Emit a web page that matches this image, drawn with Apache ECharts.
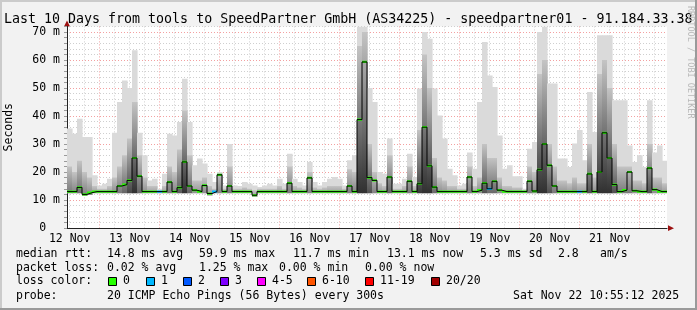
<!DOCTYPE html>
<html><head><meta charset="utf-8">
<style>html,body{margin:0;padding:0;background:#f2f2f2;}#c{width:697px;height:310px;}</style>
<script src="https://cdn.jsdelivr.net/npm/echarts@6/dist/echarts.min.js"></script>
</head><body><div id="c"></div>
<script>
// ---------- data ----------
const titleText = 'Last 10 Days from tools to SpeedPartner GmbH (AS34225) - speedpartner01 - 91.184.33.38';
const startHour = 10.92;   // Nov 12 10:55 (hours since Nov 12 00:00)
const endHour = 250.92;    // Nov 22 10:55
const binHours = 2;
const dayLabels = ['12 Nov','13 Nov','14 Nov','15 Nov','16 Nov','17 Nov','18 Nov','19 Nov','20 Nov','21 Nov'];
const yTickLabels = ['0','10 m','20 m','30 m','40 m','50 m','60 m','70 m'];

const median = [
 13,13,14.5,12,12.6,13,13,13,13,13,
 15,15.5,17,25,18.5,13,13,13,13,13,
 16.4,13,14.4,23.6,15,13.5,13,15.2,12.3,13,
 19,13,15,13,13,13,13,11.7,13,13,
 13,13,13,13,16,13,13,13,17.9,13,
 13,13,13,13,13,13,15,13,38.7,59.3,
 18,17,13,13,18.2,13,13,13,16.7,13,
 15.8,36,22.2,14.6,13,13,13,13,13,13,
 18.2,13,13.5,16,14,16.7,13.5,13,13,13,
 13,13,16.7,13.2,20.8,30,22.4,15,13,13,
 13,13,13,13,19.3,13,20,34,25,15.5,
 13,13.5,20,13.3,13,13,21.4,13.7,13,13
];
const smokeMax = [
 35.5,33.7,39,32.5,32.5,18.8,15.2,15.8,17.6,34,
 45,52.7,50,63.5,34,26,17,17.6,14,19.4,
 33.7,33,37.9,53.3,37.9,22.4,24.8,23,19.4,16.4,
 20,15.2,30,15.2,15,16.4,15.8,15.2,14.6,15.2,
 15.8,15.2,17.6,15.8,26.5,17.6,16.4,15.2,23.6,16.4,
 15.2,16.4,17.6,18.2,17.6,15.2,24.2,26,72,72,
 50,45,20,19.4,32,15.8,15.8,17.6,26.5,18.2,
 49.8,70,67.6,49.8,40.2,32,21.2,18.8,15.2,15.8,
 27,21.2,45,66.4,54.5,50.4,33,21.2,22.4,18.5,
 18.5,14,28.3,30.7,70,72,51.6,51.6,24.8,24.8,
 21.8,30.2,35,24.2,48.6,34.3,68.8,68.8,68.8,45.6,
 45.6,45.6,29.5,23.6,26,21.8,45.6,27,29.5,24
];
const smokeDark = [
 22,20,24,20,18,15,14,14,15,18,
 22,26,32,45,26,18,15,15,13.5,15,
 22,20,28,42,26,17,17,18,15,14,
 19.5,14,22,14,14,14.5,14,13.5,14,14,
 14,14,15,14,22,15,14.5,14,20,14.5,
 14,14.5,15,15,15,14,21,20,65,70,
 30,20,16,15,26,14,14,15,22,15,
 35,62,50,25,18,17,15,15,14,14,
 22,15,18,30,25,25,18,15,15,14.5,
 14.5,13.5,22,20,55,60,30,22,17,17,
 16,18,16,16,30,18,55,60,50,30,
 22,22,22,17,17,16,30,18,18,16
];
const smokeMin = [
 12.4,12.4,12.4,11.5,11.8,12.4,12.4,12.4,12.4,12.4,
 12.4,12.4,12.4,12.4,12.4,12.4,12.4,12.4,12.4,12.4,
 12.4,12.4,12.4,12.4,12.4,12.4,12.4,12.4,11.6,12.4,
 12.4,12.4,12.4,12.4,12.4,12.4,12.4,11.2,12.4,12.4,
 12.4,12.4,12.4,12.4,12.4,12.4,12.4,12.4,12.4,12.4,
 12.4,12.4,12.4,12.4,12.4,12.4,12.4,12.4,12.4,12.4,
 12.4,12.4,12.4,12.4,12.4,12.4,12.4,12.4,12.4,12.4,
 12.4,12.4,12.4,12.4,12.4,12.4,12.4,12.4,12.4,12.4,
 12.4,12.4,12.4,12.4,12.4,12.4,12.4,12.4,12.4,12.4,
 12.4,12.4,12.4,12.4,12.4,12.4,12.4,12.4,12.4,12.4,
 12.4,12.4,12.4,12.4,12.4,12.4,12.4,12.4,12.4,12.4,
 12.4,12.4,12.4,12.4,12.4,12.4,12.4,12.4,12.4,12.4
];
const lossEvents = [[18,1],[29,1],[84,1],[102,1]]; // [bin, loss class]
const lossColors = ['#26ff00','#00b8ff','#0059ff','#7e00ff','#ff00ff','#ff5500','#ff0000','#a10000'];
const lossLabels = ['0','1','2','3','4-5','6-10','11-19','20/20'];
const rttStats = ['median rtt:','14.8 ms avg','59.9 ms max','11.7 ms min','13.1 ms now','5.3 ms sd','2.8','am/s'];
const lossStats = ['packet loss:','0.02 % avg','1.25 % max','0.00 % min','0.00 % now'];
const probeText = ['probe:','20 ICMP Echo Pings (56 Bytes) every 300s','Sat Nov 22 10:55:12 2025'];

// ---------- layout (pixels) ----------
const MONO = '"DejaVu Sans Mono", monospace';
const rttX = [16,107,199,293,387,480,558,600];
const lossX = [16,107,199,279,365];
const probeX = [16,107,513];
const swatchX = [108,146,183,220,257,307,365,431];

const loss = median.map(() => 0);
lossEvents.forEach(([b, c]) => { loss[b] = c; });

const noonTicks = dayLabels.map((d, i) => 12 + 24 * i);
const majorTicks = []; for (let h = 24; h < endHour; h += 24) majorTicks.push(h);
const minorTicks = []; for (let h = 12; h < endHour; h += 6) if (h % 24 !== 0) minorTicks.push(h);

const stepData = median.map((m, i) => [startHour + i * binHours, m]);
stepData.push([endHour, median[median.length - 1]]);

// shade of the dense part of the smoke: darker the wider the spread
function smokeShade(i) {
  const spread = smokeDark[i] - smokeMin[i];
  const g = Math.max(0x30, Math.round(0xa8 - spread * 5));
  const h = g.toString(16).padStart(2, '0');
  return '#' + h + h + h;
}

const graphics = [];
// frame
graphics.push({type:'rect', shape:{x:0,y:0,width:697,height:2}, style:{fill:'#cbcbcb'}, silent:true});
graphics.push({type:'rect', shape:{x:0,y:0,width:2,height:310}, style:{fill:'#cbcbcb'}, silent:true});
graphics.push({type:'rect', shape:{x:0,y:308,width:697,height:2}, style:{fill:'#9a9a9a'}, silent:true});
graphics.push({type:'rect', shape:{x:695,y:0,width:2,height:310}, style:{fill:'#9a9a9a'}, silent:true});
// title
graphics.push({type:'text', x:4, y:19.5, style:{text:titleText, font:'13.3px ' + MONO, fill:'#000', align:'left', verticalAlign:'middle'}});
// rrdtool credit
graphics.push({type:'text', x:690, y:6, rotation:-Math.PI/2, style:{text:'RRDTOOL / TOBI OETIKER', font:'8.5px ' + MONO, fill:'#b8b8b8', align:'left', verticalAlign:'middle'}});
// arrows
graphics.push({type:'polygon', shape:{points:[[64,26.5],[70,26.5],[67,20.5]]}, style:{fill:'#9c1010'}});
graphics.push({type:'polygon', shape:{points:[[668,225.3],[668,231],[674,228.2]]}, style:{fill:'#9c1010'}});
// legend text lines
const addLine = (arr, xs, y) => arr.forEach((t, i) => graphics.push({type:'text', x:xs[i], y:y, style:{text:t, font:'11.5px ' + MONO, fill:'#000', align:'left', verticalAlign:'middle'}}));
addLine(rttStats, rttX, 254);
addLine(lossStats, lossX, 268.3);
addLine(['loss color:'], [16], 281.5);
addLine(probeText, probeX, 296);
lossLabels.forEach((l, i) => {
  graphics.push({type:'rect', shape:{x:swatchX[i] + 0.5, y:277.5, width:8, height:8}, style:{fill:lossColors[i], stroke:'#000', lineWidth:1}});
  graphics.push({type:'text', x:swatchX[i] + 15, y:281.5, style:{text:l, font:'11.5px ' + MONO, fill:'#000', align:'left', verticalAlign:'middle'}});
});

const chart = echarts.init(document.getElementById('c'), null, {renderer:'canvas'});
chart.setOption({
  backgroundColor:'#f2f2f2',
  animation:false,
  grid:{left:67, top:26.4, width:600, height:201.6, show:true, backgroundColor:'#ffffff', borderWidth:0, outerBoundsMode:'none'},
  xAxis:[{
    type:'value', min:startHour, max:endHour,
    axisLine:{show:true, onZero:false, lineStyle:{color:'#222', width:1}},
    axisTick:{show:false, customValues:majorTicks},
    splitLine:{show:true, lineStyle:{color:'#f3a0a0', type:[1,2], width:1}},
    axisLabel:{customValues:noonTicks, margin:5, color:'#000', fontFamily:MONO, fontSize:11.5,
      formatter:(v) => dayLabels[Math.round((v - 12) / 24)] || ''}
  },{
    type:'value', min:startHour, max:endHour, position:'top',
    axisLine:{show:false}, axisLabel:{show:false},
    axisTick:{show:false, customValues:minorTicks},
    splitLine:{show:true, lineStyle:{color:'#cfcfcf', type:[1,2], width:1}}
  }],
  yAxis:{
    type:'value', min:0, max:72, interval:2,
    name:'Seconds', nameLocation:'middle', nameGap:52, nameRotate:90,
    nameTextStyle:{fontFamily:MONO, fontSize:11.5, color:'#000'},
    axisLine:{show:true, lineStyle:{color:'#222', width:1}},
    axisTick:{show:true, length:3, lineStyle:{color:'#9a9a9a'}},
    splitLine:{show:true, lineStyle:{color:['#f3a0a0','#cfcfcf','#cfcfcf','#cfcfcf','#cfcfcf'], type:[1,2], width:1}},
    axisLabel:{margin:7, color:'#000', fontFamily:MONO, fontSize:11.5,
      formatter:(v) => (v % 10 === 0 ? (v === 0 ? yTickLabels[0] + '  ' : yTickLabels[v / 10]) : '')}
  },
  series:[{
    type:'custom', name:'smoke', xAxisIndex:0, yAxisIndex:0, clip:true, silent:true,
    data: median.map((m, i) => [startHour + i * binHours, smokeMax[i]]),
    renderItem:(params, api) => {
      const i = params.dataIndex;
      const x0 = startHour + i * binHours, x1 = x0 + binHours;
      const tl = api.coord([x0, smokeMax[i]]);
      const br = api.coord([x1, smokeMin[i]]);
      const dk = api.coord([x0, smokeDark[i]]);
      const w = br[0] - tl[0] + 0.6;
      return {type:'group', children:[
        {type:'rect', shape:{x:tl[0], y:tl[1], width:w, height:br[1] - tl[1]}, style:{fill:'#dadada'}},
        {type:'rect', shape:{x:tl[0], y:dk[1], width:w, height:br[1] - dk[1]},
          style:{fill:new echarts.graphic.LinearGradient(0,0,0,1,[{offset:0,color:'#c4c4c4'},{offset:1,color:smokeShade(i)}])}}
      ]};
    }
  },{
    type:'line', name:'median', step:'end', xAxisIndex:0, yAxisIndex:0, data:stepData,
    symbol:'none', silent:true, lineStyle:{color:'#000', width:1}
  },{
    type:'custom', name:'medianLoss', xAxisIndex:0, yAxisIndex:0, clip:true, silent:true,
    data: median.map((m, i) => [startHour + i * binHours, m]),
    renderItem:(params, api) => {
      const i = params.dataIndex;
      const x0 = startHour + i * binHours;
      const a = api.coord([x0, median[i]]);
      const b = api.coord([x0 + binHours, median[i]]);
      return {type:'line', shape:{x1:a[0], y1:a[1], x2:b[0], y2:b[1]}, style:{stroke:lossColors[loss[i]], lineWidth:2.2}};
    }
  }],
  graphic: graphics
});
</script></body></html>
